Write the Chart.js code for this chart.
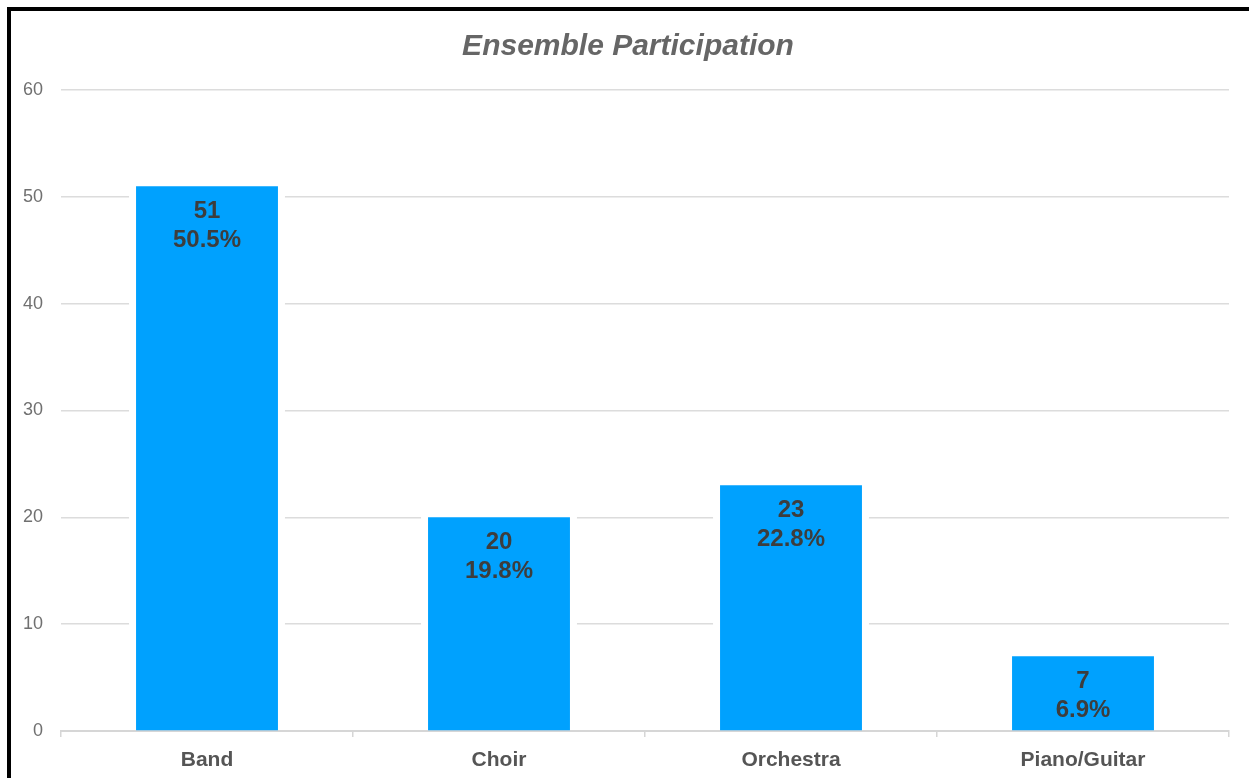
<!DOCTYPE html>
<html>
<head>
<meta charset="utf-8">
<title>Ensemble Participation</title>
<script src="https://cdn.jsdelivr.net/npm/chart.js"></script>
<style>
  html, body { margin: 0; padding: 0; background: #fff; overflow: hidden; }
  #wrap { position: relative; width: 1249px; height: 778px; }
  #frame {
    position: absolute; left: 7px; top: 7px; right: 0; bottom: 0;
    border-top: 4px solid #000; border-left: 4px solid #000;
    pointer-events: none;
  }
  canvas { position: absolute; left: 0; top: 0; }
</style>
</head>
<body>
<div id="wrap">
  <canvas id="grafico" width="1249" height="778"></canvas>
  <div id="frame"></div>
</div>
<script>
// --- Datos ---
const categorias = ["Band", "Choir", "Orchestra", "Piano/Guitar"];
const participantes = [51, 20, 23, 7];
const marcasEjeY = [0, 10, 20, 30, 40, 50, 60];
const tituloGrafico = "Ensemble Participation";

const total = participantes.reduce((a, b) => a + b, 0);
const fuente = "'Liberation Sans', Arial, Helvetica, sans-serif";

// título centrado sobre todo el marco
const tituloPropio = {
    id: "tituloPropio",
    afterDraw(chart) {
        const ctx = chart.ctx;
        ctx.save();
        ctx.fillStyle = "#666666";
        ctx.font = "italic bold 30px " + fuente;
        ctx.textAlign = "center";
        ctx.textBaseline = "middle";
        ctx.fillText(tituloGrafico, 628, 47);
        ctx.restore();
    }
};

// hueco blanco alrededor de cada barra, tapa las líneas de la rejilla
const huecoBarras = {
    id: "huecoBarras",
    beforeDatasetsDraw(chart) {
        const ctx = chart.ctx;
        const meta = chart.getDatasetMeta(0);
        ctx.save();
        ctx.fillStyle = "#ffffff";
        meta.data.forEach(bar => {
            const m = 7;
            ctx.fillRect(bar.x - bar.width / 2 - m, bar.y - 1, bar.width + 2 * m, bar.base - bar.y);
        });
        ctx.restore();
    }
};

// valor y porcentaje dentro de cada barra
const etiquetasBarras = {
    id: "etiquetasBarras",
    afterDatasetsDraw(chart) {
        const ctx = chart.ctx;
        const meta = chart.getDatasetMeta(0);
        ctx.save();
        ctx.fillStyle = "#3d3d3d";
        ctx.font = "bold 24px " + fuente;
        ctx.textAlign = "center";
        ctx.textBaseline = "middle";
        meta.data.forEach((bar, i) => {
            const v = participantes[i];
            const pct = (v / total * 100).toFixed(1) + "%";
            ctx.fillText(String(v), bar.x, bar.y + 25);
            ctx.fillText(pct, bar.x, bar.y + 54);
        });
        ctx.restore();
    }
};

new Chart(document.getElementById("grafico"), {
    type: "bar",
    data: {
        labels: categorias,
        datasets: [{
            data: participantes,
            backgroundColor: "#00a1fe",
            borderWidth: 0,
            barPercentage: 0.486,
            categoryPercentage: 1
        }]
    },
    options: {
        responsive: false,
        animation: false,
        layout: { padding: { left: 0, right: 20, top: 90, bottom: 0 } },
        plugins: {
            legend: { display: false },
            tooltip: { enabled: false },
            title: { display: false }
        },
        scales: {
            x: {
                afterFit(scale) { scale.height = 47; },
                grid: {
                    display: true,
                    drawOnChartArea: false,
                    drawTicks: true,
                    tickLength: 6,
                    color: "#d6d6d6",
                    lineWidth: 1.5
                },
                border: { display: true, color: "#d6d6d6", width: 2 },
                ticks: {
                    color: "#555555",
                    padding: 11,
                    font: { family: fuente, size: 21, weight: "bold" }
                }
            },
            y: {
                min: 0,
                max: 60,
                afterBuildTicks(scale) {
                    scale.ticks = marcasEjeY.map(v => ({ value: v }));
                },
                afterFit(scale) { scale.width = 61; },
                grid: { color: "#dcdcdc", lineWidth: 1.5, drawTicks: false },
                border: { display: false },
                ticks: {
                    color: "#707070",
                    padding: 18,
                    font: { family: fuente, size: 18 }
                }
            }
        }
    },
    plugins: [huecoBarras, etiquetasBarras, tituloPropio]
});
</script>
</body>
</html>
